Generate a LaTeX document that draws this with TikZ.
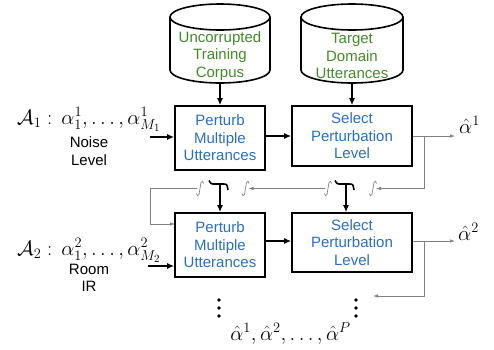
\documentclass[tikz,border=0pt]{standalone}
\usepackage[no-math]{fontspec}
\setmainfont{Liberation Sans}
\usetikzlibrary{arrows.meta}
\definecolor{tblue}{RGB}{46,110,180}
\definecolor{tgreen}{RGB}{70,135,45}
\definecolor{lgray}{RGB}{128,128,128}
\begin{document}
\begin{tikzpicture}[x=1pt,y=-1pt,
  box/.style={draw,line width=1.6pt,inner sep=0pt,text=tblue,align=center,font=\fontsize{15}{17.5}\selectfont},
  ctext/.style={text=tgreen,align=center,inner sep=0pt,font=\fontsize{15}{17.5}\selectfont},
  cyl/.style={draw,line width=1.6pt},
  arr/.style={-{Latex[length=7pt,width=6pt]},line width=1.4pt},
  garr/.style={-{Latex[length=5pt,width=3.5pt]},line width=0.7pt,draw=lgray},
  gline/.style={line width=0.7pt,draw=lgray},
  brace/.style={line width=1.6pt},
  mlab/.style={font=\fontsize{21}{24}\selectfont,inner sep=0pt},
  slab/.style={align=center,inner sep=0pt,font=\fontsize{15}{17.5}\selectfont},
  vdot/.style={fill=black,draw=none},
  jmp/.pic={\draw[gline] (-3.5,5) .. controls (-3.5,7.5) and (-2,8) .. (-1,6) -- (1,-6) .. controls (2,-8) and (3.5,-7.5) .. (3.5,-5);}
]
\useasboundingbox (0,0) rectangle (494,349);

% cylinders
\draw[cyl] (170,17) -- (170,70) .. controls (170,77.2) and (192.4,83) .. (220,83)
  .. controls (247.6,83) and (270,77.2) .. (270,70) -- (270,17);
\draw[cyl] (220,17) ellipse [x radius=50,y radius=13];
\draw[cyl] (301,17) -- (301,70) .. controls (301,77.2) and (323.8,83) .. (352,83)
  .. controls (380.2,83) and (403,77.2) .. (403,70) -- (403,17);
\draw[cyl] (352,17) ellipse [x radius=51,y radius=13];
\node[ctext] (c1) at (220,56) {Uncorrupted\\Training\\Corpus};
\node[ctext] (c2) at (352,56) {Target\\Domain\\Utterances};
\coordinate (c1b) at (220,83);
\coordinate (c2b) at (352,83);

% boxes
\node[box,minimum width=90pt,minimum height=64pt] (p1) at (220,138) {Perturb\\Multiple\\Utterances};
\node[box,minimum width=120pt,minimum height=60pt] (s1) at (352,136) {Select\\Perturbation\\Level};
\node[box,minimum width=90pt,minimum height=64pt] (p2) at (220,245) {Perturb\\Multiple\\Utterances};
\node[box,minimum width=120pt,minimum height=59pt] (s2) at (352,242.5) {Select\\Perturbation\\Level};

\draw[arr] (c1b) -- (p1.north);
\draw[arr] (c2b) -- (s1.north);
\draw[arr] (p1.east |- s1.west) -- (s1.west);
\draw[arr] (p2.east |- 0,241) -- (s2.west |- 0,241);

% left labels
\node[mlab,anchor=base west] (a1) at (17,124) {$\mathcal{A}_1:\,\alpha_1^1,\ldots,\alpha_{M_1}^1$};
\node[slab] (n1) at (89,151) {Noise\\Level};
\coordinate (in1) at (150,137);
\draw[arr] (in1) -- (in1 -| p1.west);
\node[mlab,anchor=base west] (a2) at (17,255) {$\mathcal{A}_2:\,\alpha_1^2,\ldots,\alpha_{M_2}^2$};
\node[slab] (n2) at (89,278) {Room\\IR};
\coordinate (in2) at (148,266);
\draw[arr] (in2) -- (in2 -| p2.west);

% outputs
\node[mlab,anchor=base west] (o1) at (459,133) {$\hat{\alpha}^1$};
\node[mlab,anchor=base west] (o2) at (458,240) {$\hat{\alpha}^2$};
\coordinate (o1t) at (455,136);
\coordinate (o2t) at (455,241);
\draw[garr] (s1.east |- o1t) -- (o1t);
\draw[garr] (s2.east |- o2t) -- (o2t);

% feedback row 1 -> row 2
\coordinate (b1) at (424,136);
\coordinate (j4) at (373,188.5);
\coordinate (j3) at (328,188.5);
\coordinate (j2) at (245.5,188.5);
\coordinate (j1) at (200,188.5);
\coordinate (f2) at (175,224);
\draw[garr] (b1) -- (b1 |- j4) -- ([xshift=3pt]j4);
\draw[garr] ([xshift=-3pt]j3) -- ([xshift=3pt]j2);
\draw[garr] ([xshift=-3pt]j1) -- (150,188.5) -- (150,224) -- (f2);
\pic at (j1) {jmp};
\pic at (j2) {jmp};
\pic at (j3) {jmp};
\pic at (j4) {jmp};

% braces with arrows
\coordinate (br1) at (220,184);
\coordinate (br2) at (346,184);
\draw[brace] ([shift={(-11,-3.5)}]br1) .. controls ([shift={(-9,0)}]br1) .. ([shift={(-5,0)}]br1)
  -- ([shift={(3,0)}]br1) .. controls ([shift={(7,0)}]br1) .. ([shift={(8,6)}]br1);
\draw[brace] ([shift={(-11,-3.5)}]br2) .. controls ([shift={(-9,0)}]br2) .. ([shift={(-5,0)}]br2)
  -- ([shift={(3,0)}]br2) .. controls ([shift={(7,0)}]br2) .. ([shift={(8,6)}]br2);
\draw[arr] (br1) -- (br1 |- p2.north);
\draw[arr] (br2) -- (br2 |- s2.north);

% feedback from row 2
\coordinate (b2) at (424,241);
\coordinate (e2) at (373,296);
\draw[garr] (b2) -- (b2 |- e2) -- (e2);

% dots
\foreach \yy in {300,308,316} {
  \fill[vdot] (219,\yy) circle (1.8);
  \fill[vdot] (356,\yy) circle (1.8);
}
\node[mlab,anchor=base] (fin) at (290.5,340) {$\hat{\alpha}^1,\hat{\alpha}^2,\ldots,\hat{\alpha}^P$};
\end{tikzpicture}
\end{document}
